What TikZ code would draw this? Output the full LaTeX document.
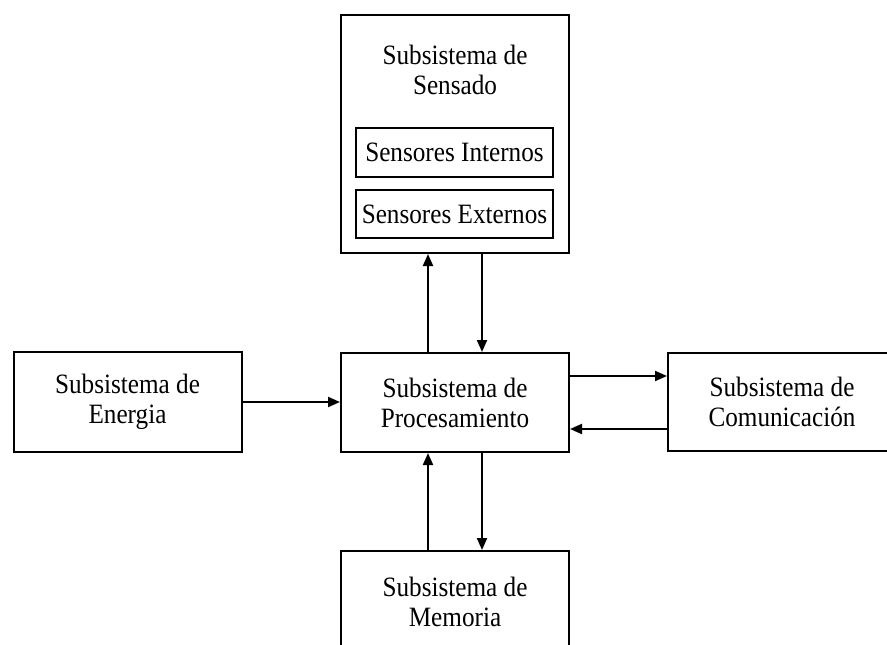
\documentclass[tikz,border=0pt]{standalone}
\usepackage{fontspec}
\setmainfont[FakeStretch=0.9]{Liberation Serif}
\usetikzlibrary{arrows.meta}
\begin{document}
\begin{tikzpicture}[x=1pt,y=-1pt,
  every node/.style={font=\fontsize{28}{30}\selectfont, align=center},
  box/.style={draw, line width=2pt, rectangle, inner sep=0pt},
  arr/.style={line width=2pt, -{Triangle[length=12pt,width=10pt]}}]
\useasboundingbox (0,0) rectangle (887,645);
\clip (0,0) rectangle (887,645);
% sensing subsystem with its two sensor groups
\node[box, minimum width=228, minimum height=238] (sens) at (455,134) {};
\node (senstitle) at (455,70) {Subsistema de\\Sensado};
\node[box, minimum width=197, minimum height=49] (int) at (454.5,152.5) {Sensores Internos};
\node[box, minimum width=197, minimum height=48] (ext) at (454.5,214) {Sensores Externos};
% remaining subsystems
\node[box, minimum width=228, minimum height=99] (proc) at (455,402.5) {Subsistema de\\Procesamiento};
\node[box, minimum width=228, minimum height=100] (ener) at (127.5,402) {Subsistema de\\Energia};
\node[box, minimum width=228, minimum height=98] (com) at (782,402) {Subsistema de\\Comunicación};
\node[box, minimum width=228, minimum height=100] (mem) at (455,601) {};
\node (memtitle) at (455,602) {Subsistema de\\Memoria};
% data flows
\draw[arr] ([xshift=-27pt]proc.north) -- ([xshift=-27pt]sens.south);
\draw[arr] ([xshift=27pt]sens.south) -- ([xshift=27pt]proc.north);
\draw[arr] (ener.east) -- (ener.east -| proc.west);
\draw[arr] ([yshift=26.5pt]proc.east) -- ([yshift=26.5pt]proc.east -| com.west);
\draw[arr] ([yshift=-26.5pt]proc.east -| com.west) -- ([yshift=-26.5pt]proc.east);
\draw[arr] ([xshift=-27pt]mem.north) -- ([xshift=-27pt]proc.south);
\draw[arr] ([xshift=27pt]proc.south) -- ([xshift=27pt]mem.north);
\end{tikzpicture}
\end{document}
